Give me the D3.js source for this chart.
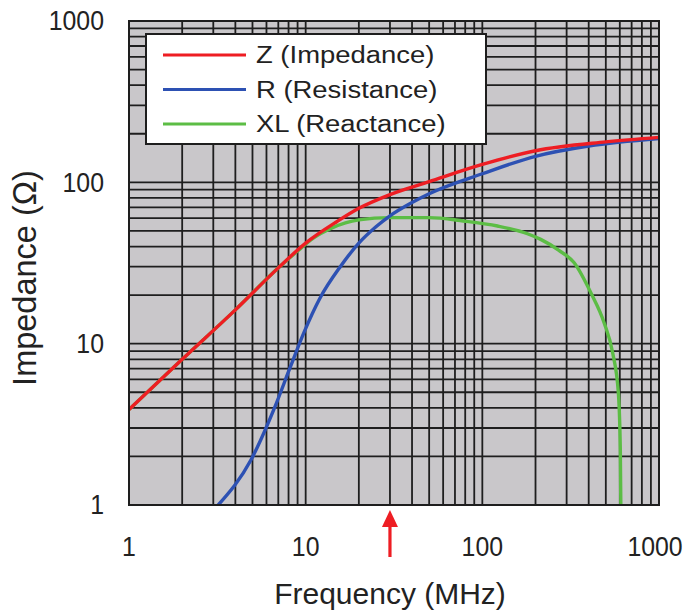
<!DOCTYPE html>
<html lang="en">
<head>
<meta charset="UTF-8">
<title>Impedance vs Frequency</title>
<style>
    body { margin: 0; background: #fff; }
    svg { display: block; }
    text { font-family: "Liberation Sans", Arial, sans-serif; fill: #222; }
</style>
</head>
<body>
<svg id="chart" width="686" height="614"></svg>
<script src="https://cdn.jsdelivr.net/npm/d3@7"></script>
<script>
// data: [frequency MHz, ohms]
const zPoints = [[1, 3.9], [2, 8.0], [4, 16.2], [7, 29.5], [10, 42], [15, 57], [20, 69],
    [30, 84], [50, 101], [100, 129], [200, 157], [500, 178], [1000, 190]];
const rPoints = [[3.2, 1], [4.9, 1.9], [6.6, 3.9], [8.2, 7.2], [9.8, 11.8], [12, 19],
    [15.7, 30], [20, 42], [25, 53], [30, 62], [40, 75], [50, 85], [100, 113], [200, 145],
    [400, 168], [1000, 187]];
const xlPoints = [[1, 3.9], [2, 8.0], [4, 16.2], [7, 29.5], [9, 37.5], [11, 45], [14, 52],
    [20, 58.5], [30, 60.4], [50, 60.4], [78, 57.6], [122, 53.6], [180, 48], [214, 44.3],
    [270, 38], [331, 31.7], [412, 20.6], [490, 13.4], [547, 8.75], [589, 4.94], [604, 2.2],
    [608, 1.0]];

const seriesNames = ['Z (Impedance)', 'R (Resistance)', 'XL (Reactance)'];
const seriesColors = ['#ee1d23', '#2d51b3', '#5cbd45'];
const xTickLabels = [1, 10, 100, 1000];
const yTickLabels = [1, 10, 100, 1000];
const markerFreq = 30;

const svg = d3.select('#chart');
const plotL = 129, plotR = 659, plotT = 21, plotB = 505;

const x = d3.scaleLog().domain([1, 1000]).range([plotL, plotR]);
const y = d3.scaleLog().domain([1, 1000]).range([plotB, plotT]);

// plot background
svg.append('rect')
    .attr('x', plotL).attr('y', plotT)
    .attr('width', plotR - plotL).attr('height', plotB - plotT)
    .attr('fill', '#c9c7ca');

// grid (decades + minor 2..9)
const grid = svg.append('g').attr('stroke', '#1e1e1e').attr('stroke-width', 1.8);
grid.selectAll('.vg')
    .data(x.ticks())
    .join('line')
    .attr('x1', d => x(d)).attr('x2', d => x(d))
    .attr('y1', plotT).attr('y2', plotB);
grid.selectAll('.hg')
    .data(y.ticks())
    .join('line')
    .attr('x1', plotL).attr('x2', plotR)
    .attr('y1', d => y(d)).attr('y2', d => y(d));

svg.append('defs').append('clipPath').attr('id', 'plotClip')
    .append('rect')
    .attr('x', plotL).attr('y', plotT)
    .attr('width', plotR - plotL).attr('height', plotB - plotT);

const line = d3.line()
    .x(d => x(d[0]))
    .y(d => y(d[1]))
    .curve(d3.curveMonotoneX);

const curves = svg.append('g').attr('clip-path', 'url(#plotClip)');
// draw order: XL under R under Z
[[xlPoints, 2], [rPoints, 1], [zPoints, 0]].forEach(([pts, i]) => {
    curves.append('path')
        .datum(pts)
        .attr('d', line)
        .attr('fill', 'none')
        .attr('stroke', seriesColors[i])
        .attr('stroke-width', 3.4)
        .attr('stroke-linejoin', 'round');
});

// frame
svg.append('rect')
    .attr('x', plotL).attr('y', plotT)
    .attr('width', plotR - plotL).attr('height', plotB - plotT)
    .attr('fill', 'none')
    .attr('stroke', '#1e1e1e')
    .attr('stroke-width', 2);

// legend
const legend = svg.append('g');
legend.append('rect')
    .attr('x', 146).attr('y', 34)
    .attr('width', 340).attr('height', 110)
    .attr('fill', '#fff')
    .attr('stroke', '#1e1e1e')
    .attr('stroke-width', 2);

const legendY = d3.scalePoint().domain(seriesNames).range([55, 124]);
seriesNames.forEach((name, i) => {
    const ly = legendY(name);
    legend.append('line')
        .attr('x1', 163).attr('x2', 246)
        .attr('y1', ly).attr('y2', ly)
        .attr('stroke', seriesColors[i])
        .attr('stroke-width', 3);
    legend.append('text')
        .attr('transform', `translate(256,${ly + 8}) scale(1.12,1)`)
        .attr('font-size', 24.5)
        .text(name);
});

// tick labels
svg.selectAll('.xlab')
    .data(xTickLabels)
    .join('text')
    .attr('transform', d => `translate(${Math.min(x(d), 655)},547) scale(0.92,1)`)
    .attr('text-anchor', 'middle')
    .attr('dominant-baseline', 'central')
    .attr('font-size', 27)
    .text(d => d);

svg.selectAll('.ylab')
    .data(yTickLabels)
    .join('text')
    .attr('transform', d => `translate(104,${Math.max(y(d), 18)}) scale(0.92,1)`)
    .attr('text-anchor', 'end')
    .attr('dominant-baseline', 'central')
    .attr('font-size', 27)
    .text(d => d);

// axis titles
svg.append('text')
    .attr('x', 390).attr('y', 604)
    .attr('text-anchor', 'middle')
    .attr('font-size', 30)
    .text('Frequency (MHz)');

svg.append('text')
    .attr('transform', 'translate(36,278) rotate(-90)')
    .attr('text-anchor', 'middle')
    .attr('font-size', 32.5)
    .text('Impedance (Ω)');

// red marker arrow under the axis
const ax = x(markerFreq);
svg.append('line')
    .attr('x1', ax).attr('x2', ax)
    .attr('y1', 557).attr('y2', 522)
    .attr('stroke', '#ee1d23')
    .attr('stroke-width', 3.2);
svg.append('path')
    .attr('d', `M${ax - 8},527 L${ax + 8},527 L${ax},510 Z`)
    .attr('fill', '#ee1d23');
</script>
</body>
</html>
